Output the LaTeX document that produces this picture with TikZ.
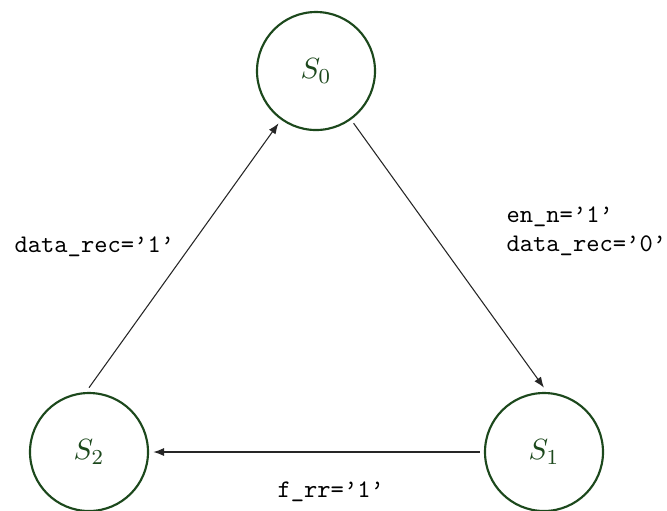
\documentclass[tikz,border=0pt]{standalone}
\usetikzlibrary{arrows.meta}
\definecolor{stategreen}{RGB}{28,72,28}
\begin{document}
\begin{tikzpicture}[x=0.375pt,y=-0.375pt,
  state/.style={circle,draw=stategreen,line width=0.8pt,minimum size=44.25pt,inner sep=0pt,outer sep=2pt,text=stategreen,font=\fontsize{11}{13}\selectfont},
  trans/.style={-{Latex[length=4pt,width=3pt]},line width=0.4pt,black!85},
  lbl/.style={inner sep=0pt,anchor=base west,font=\fontsize{9.5}{11}\selectfont\ttfamily}]
\useasboundingbox (0,0) rectangle (667,510);
\node[state] (S0) at (316,71) {$S_0$};
\node[state] (S1) at (544,452) {$S_1$};
\node[state] (S2) at (89,452) {$S_2$};
\draw[trans] (S0) -- (S1.north);
\draw[trans] (S1) -- (S2);
\draw[trans] (S2.north) -- (S0);
\node[lbl] (l20) at (14,252) {data\_rec=’1’};
\node[lbl] (l01a) at (506,222) {en\_n=’1’};
\node[lbl] (l01b) at (506,251) {data\_rec=’0’};
\node[lbl] (l12) at (277,497) {f\_rr=’1’};
\end{tikzpicture}
\end{document}
